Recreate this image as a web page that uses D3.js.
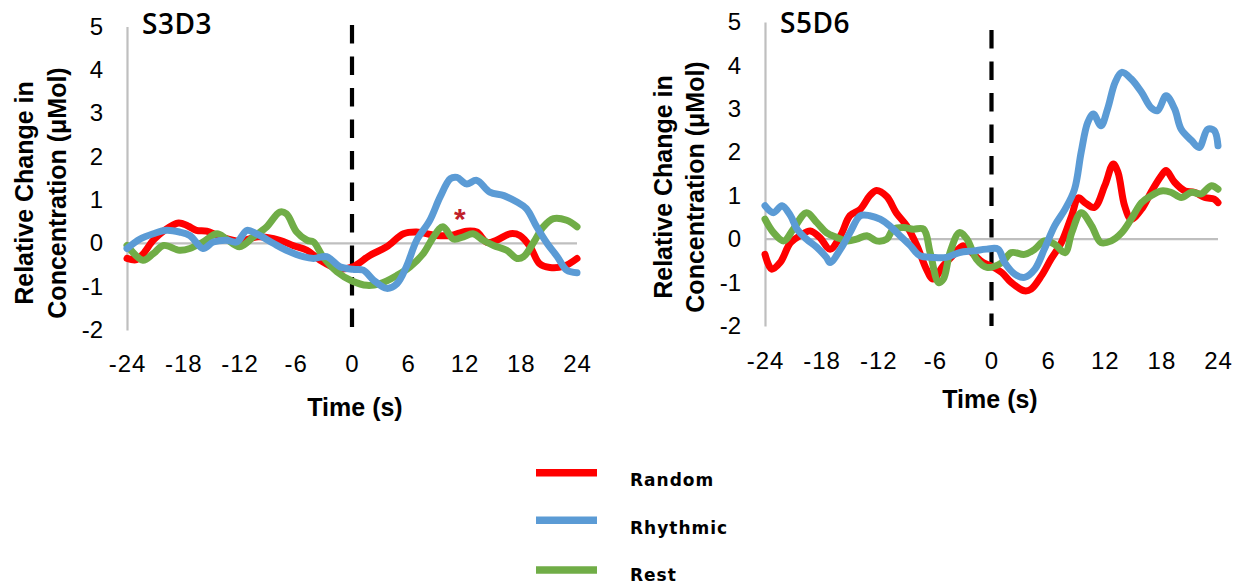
<!DOCTYPE html>
<html>
<head>
<meta charset="utf-8">
<script src="https://cdn.jsdelivr.net/npm/d3@7"></script>
<style>
  html, body { margin: 0; padding: 0; background: #fff; }
  svg { display: block; }
</style>
</head>
<body>
<svg id="chart" width="1241" height="584"></svg>
<script>
// ---------- DATA ----------
const panelTitles = ["S3D3", "S5D6"];
const seriesNames = ["Random", "Rhythmic", "Rest"];
const xTickValues = [-24, -18, -12, -6, 0, 6, 12, 18, 24];
const yTickValues = [-2, -1, 0, 1, 2, 3, 4, 5];
const yAxisTitle = ["Relative Change in", "Concentration (\u03bcMol)"];
const xAxisTitle = "Time (s)";

// [time (s), relative change (µMol)]
const s3d3Random = [[-24,-0.35],[-23,-0.38],[-22.3,-0.25],[-21.2,0.07],[-20,0.3],[-18.5,0.47],[-17.5,0.4],[-16.6,0.3],[-15.5,0.28],[-14,0.15],[-12,0.05],[-10,0.15],[-7.7,0.07],[-6.3,-0.05],[-4.8,-0.16],[-3.4,-0.39],[-1.6,-0.58],[0,-0.55],[1.9,-0.28],[3.7,-0.08],[5.5,0.22],[6.9,0.26],[9,0.18],[10.5,0.18],[12.2,0.28],[13.3,0.26],[14.4,0.02],[15.4,0.07],[16.9,0.22],[17.9,0.18],[19,-0.08],[20,-0.47],[21.1,-0.56],[22.6,-0.53],[24,-0.35]];
const s3d3Rhythmic = [[-24,-0.12],[-22.6,0.1],[-21.2,0.22],[-19.8,0.3],[-18.4,0.26],[-17.3,0.18],[-15.9,-0.12],[-14.8,0.03],[-13.4,0.07],[-12.3,0.03],[-11.2,0.3],[-10.2,0.22],[-8.4,0],[-7,-0.16],[-5.2,-0.31],[-4.1,-0.35],[-2.7,-0.31],[-1.3,-0.54],[0.1,-0.6],[1.2,-0.62],[2.3,-0.85],[3.7,-1.04],[4.8,-0.93],[5.8,-0.54],[6.9,0.07],[8.3,0.53],[9.4,1.07],[10.5,1.49],[11.2,1.52],[12.2,1.37],[13.3,1.45],[14.7,1.18],[16.2,1.1],[17.6,0.95],[18.6,0.8],[19.7,0.38],[20.8,0],[21.9,-0.31],[22.9,-0.62],[24,-0.68]];
const s3d3Rest = [[-24,-0.05],[-22.3,-0.39],[-21.2,-0.24],[-20.1,-0.05],[-18.4,-0.16],[-17.3,-0.12],[-15.9,0.03],[-14.4,0.22],[-13.4,0.1],[-12,-0.08],[-10.5,0.15],[-9.1,0.38],[-7.7,0.72],[-7,0.68],[-5.9,0.26],[-4.8,0.07],[-4.1,0.03],[-3.1,-0.31],[-1.6,-0.66],[0,-0.87],[1.6,-0.97],[3,-0.93],[4.8,-0.74],[6.2,-0.54],[7.6,-0.24],[8.7,0.15],[9.7,0.38],[10.8,0.1],[11.9,0.15],[12.9,0.22],[14,0.07],[15.1,-0.05],[16.5,-0.16],[17.6,-0.35],[18.3,-0.31],[19.4,0.03],[20.4,0.38],[21.5,0.57],[22.9,0.53],[24,0.38]];

const s5d6Random = [[-24,-0.35],[-23.3,-0.69],[-22.4,-0.54],[-21.3,-0.08],[-20.3,0.08],[-19.2,0.19],[-18.2,0.04],[-17.1,-0.23],[-16,0.08],[-15,0.54],[-13.9,0.69],[-12.9,1.0],[-12.2,1.12],[-11.1,0.98],[-10.1,0.61],[-9,0.31],[-7.9,-0.15],[-6.9,-0.69],[-6.2,-0.92],[-5.1,-0.61],[-4.1,-0.38],[-3,-0.15],[-1.9,-0.35],[-0.9,-0.54],[0,-0.62],[1.1,-0.77],[2.1,-1.0],[3.5,-1.19],[4.2,-1.15],[5.3,-0.84],[6.3,-0.46],[7.4,-0.08],[8.5,0.54],[9.2,0.95],[9.9,0.84],[10.9,0.73],[12,1.23],[12.9,1.73],[13.4,1.54],[14.1,0.77],[14.8,0.46],[15.9,0.69],[16.9,1.08],[18,1.46],[18.5,1.58],[19.4,1.31],[20.5,1.11],[21.5,1.08],[22.6,0.96],[23.6,0.92],[24,0.84]];
const s5d6Rhythmic = [[-24,0.77],[-23.1,0.61],[-22.2,0.77],[-21.3,0.54],[-20.6,0.23],[-19.6,0],[-18.5,-0.19],[-17.5,-0.42],[-17.1,-0.54],[-16,-0.23],[-15,0.15],[-13.9,0.54],[-12.9,0.54],[-11.8,0.46],[-10.8,0.31],[-9.7,0.08],[-8.6,-0.15],[-7.6,-0.38],[-6.2,-0.42],[-4.8,-0.42],[-3.4,-0.31],[-1.9,-0.27],[-0.5,-0.23],[0.7,-0.23],[1.4,-0.54],[2.5,-0.81],[3.5,-0.88],[4.6,-0.69],[5.6,-0.23],[6.7,0.31],[7.8,0.69],[8.8,1.15],[9.5,2.0],[10.2,2.69],[10.8,2.88],[11.6,2.61],[12.3,3.0],[13.1,3.61],[13.8,3.84],[14.8,3.69],[15.9,3.38],[16.9,3.03],[17.6,2.96],[18.5,3.3],[19.4,3.0],[20.1,2.53],[21.2,2.27],[22,2.11],[22.9,2.53],[23.6,2.5],[24,2.15]];
const s5d6Rest = [[-24,0.46],[-23.1,0.15],[-22,-0.04],[-21,0.23],[-19.6,0.61],[-18.5,0.38],[-17.5,0.15],[-16.4,0.04],[-15.3,-0.04],[-14.3,0],[-13.2,0.08],[-12.2,-0.04],[-11.1,0],[-10.4,0.23],[-9.3,0.27],[-8.3,0.23],[-7.2,0.23],[-6.5,-0.31],[-5.6,-1.0],[-5.1,-0.92],[-4.4,-0.31],[-3.4,0.15],[-2.6,0],[-1.6,-0.46],[-0.5,-0.65],[1.1,-0.54],[2.1,-0.31],[3.5,-0.35],[4.6,-0.23],[5.6,-0.04],[6.7,-0.12],[7.8,-0.31],[8.5,0.15],[9.5,0.61],[10.6,0.31],[11.6,-0.08],[12.7,-0.04],[13.8,0.15],[14.8,0.46],[15.9,0.84],[16.9,1.0],[18,1.11],[19,1.08],[20.1,0.96],[21.2,1.08],[22.2,1.04],[23.3,1.23],[24,1.15]];

// significance marker (S3D3 only): [time, value]
const s3d3Asterisk = [11.5, 0.72];

// ---------- STYLE / LAYOUT ----------
const colors = { Random: "#ff0000", Rhythmic: "#5b9bd5", Rest: "#70ad47" };
const drawOrder = ["Random", "Rest", "Rhythmic"];

const panels = [
  { title: panelTitles[0], data: { Random: s3d3Random, Rhythmic: s3d3Rhythmic, Rest: s3d3Rest },
    x0: 127, x1: 577, yTop: 26.5, yBot: 330,
    titleX: 142, titleY: 34, yl1X: 33, yl2X: 66, ylY: 193,
    xTickY: 371.5, xTitleY: 416, xTitleX: 355, asterisk: s3d3Asterisk, dashTop: 25 },
  { title: panelTitles[1], data: { Random: s5d6Random, Rhythmic: s5d6Rhythmic, Rest: s5d6Rest },
    x0: 765, x1: 1218, yTop: 22, yBot: 326,
    titleX: 780, titleY: 33, yl1X: 672, yl2X: 704, ylY: 187,
    xTickY: 369, xTitleY: 408, xTitleX: 990, asterisk: null, dashTop: 30 }
];

const svg = d3.select("#chart");
const tickFont = "'Liberation Sans', Arial, sans-serif";
const fmt = d => String(d);   // plain hyphen-minus, like the original

panels.forEach(p => {
  const x = d3.scaleLinear().domain([-24, 24]).range([p.x0, p.x1]);
  const y = d3.scaleLinear().domain([-2, 5]).range([p.yBot, p.yTop]);
  const g = svg.append("g");

  // y axis (gray line + labels)
  const yAx = g.append("g").attr("transform", `translate(${p.x0},0)`)
    .call(d3.axisLeft(y).tickValues(yTickValues).tickSize(0).tickPadding(24).tickFormat(fmt));
  yAx.select(".domain").attr("stroke", "#bfbfbf").attr("stroke-width", 2.2);
  yAx.selectAll("text").attr("font-family", tickFont).attr("font-size", 24).attr("fill", "#000");

  // x axis labels only
  const xAx = g.append("g").attr("transform", `translate(0,${p.xTickY})`)
    .call(d3.axisBottom(x).tickValues(xTickValues).tickSize(0).tickPadding(0).tickFormat(fmt));
  xAx.select(".domain").remove();
  xAx.selectAll("text").attr("font-family", tickFont).attr("font-size", 24).attr("fill", "#000")
    .attr("dy", 0).attr("y", 0).attr("letter-spacing", 1);

  // zero line
  g.append("line").attr("x1", x(-24)).attr("x2", x(24)).attr("y1", y(0)).attr("y2", y(0))
    .attr("stroke", "#bfbfbf").attr("stroke-width", 2.2);

  // dashed onset line at t = 0
  g.append("line").attr("x1", x(0)).attr("x2", x(0)).attr("y1", p.dashTop).attr("y2", y(-2))
    .attr("stroke", "#000").attr("stroke-width", 4.2).attr("stroke-dasharray", "18.5,13");

  // series
  const line = d3.line().x(d => x(d[0])).y(d => y(d[1])).curve(d3.curveCatmullRom.alpha(0.5));
  drawOrder.forEach(name => {
    g.append("path").datum(p.data[name]).attr("d", line)
      .attr("fill", "none").attr("stroke", colors[name]).attr("stroke-width", 7)
      .attr("stroke-linejoin", "round").attr("stroke-linecap", "round");
  });

  // asterisk
  if (p.asterisk) {
    g.append("text").attr("x", x(p.asterisk[0])).attr("y", y(p.asterisk[1]) + 17)
      .attr("text-anchor", "middle").attr("font-family", tickFont).attr("font-weight", "bold")
      .attr("font-size", 30).attr("fill", "#c0202a").text("*");
  }

  // panel title
  g.append("text").attr("x", p.titleX).attr("y", p.titleY)
    .attr("font-family", "'Open Sans', sans-serif").attr("font-weight", 600)
    .attr("font-size", 28).attr("letter-spacing", 0.5).attr("fill", "#000").text(p.title);

  // y axis title (two lines)
  [p.yl1X, p.yl2X].forEach((bx, i) => {
    g.append("text").attr("transform", `translate(${bx},${p.ylY}) rotate(-90)`)
      .attr("text-anchor", "middle").attr("font-family", tickFont).attr("font-weight", "bold")
      .attr("font-size", 25).attr("fill", "#000").text(yAxisTitle[i]);
  });

  // x axis title
  g.append("text").attr("x", p.xTitleX).attr("y", p.xTitleY).attr("text-anchor", "middle")
    .attr("font-family", tickFont).attr("font-weight", "bold").attr("font-size", 25)
    .attr("fill", "#000").text(xAxisTitle);
});

// ---------- LEGEND ----------
const legendLineY = [472.7, 520.3, 570];
const legendTextY = [485.5, 533.5, 580.5];
const legend = svg.append("g");
seriesNames.forEach((name, i) => {
  legend.append("line").attr("x1", 536).attr("x2", 597).attr("y1", legendLineY[i]).attr("y2", legendLineY[i])
    .attr("stroke", colors[name]).attr("stroke-width", 7.5);
  legend.append("text").attr("x", 630).attr("y", legendTextY[i])
    .attr("font-family", "'DejaVu Sans', sans-serif").attr("font-weight", "bold")
    .attr("font-size", 17).attr("letter-spacing", 1).attr("fill", "#000").text(name);
});
</script>
</body>
</html>
